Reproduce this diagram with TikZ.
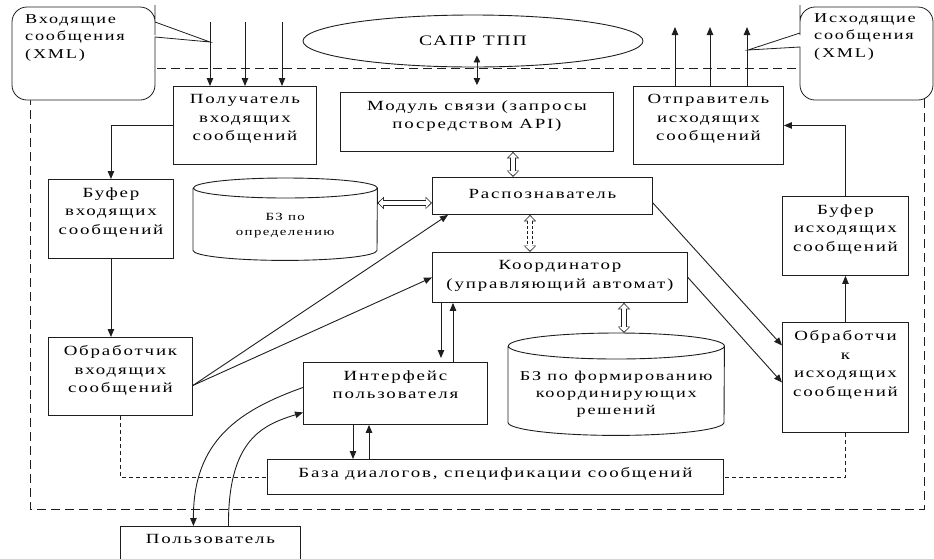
\documentclass[tikz,border=0pt]{standalone}
\usepackage{fontspec}
\setmainfont{Liberation Serif}[FakeStretch=1.35, LetterSpace=13]
\usetikzlibrary{arrows.meta,shapes.geometric}
\definecolor{Ink}{HTML}{1E1E1E}

\begin{document}
\begin{tikzpicture}[x=1pt, y=-1pt,
  blk/.style={draw=Ink, fill=white, line width=0.9pt, anchor=north west, inner sep=0pt},
  txt/.style={anchor=north, align=center, inner sep=0pt, yshift=-8.5pt,
              font=\fontsize{14}{18.5}\selectfont},
  note/.style={anchor=north west, align=left, inner sep=0pt,
               font=\fontsize{13.5}{17.5}\selectfont},
  callout/.style={draw=Ink, fill=white, line width=0.8pt},
  cyl/.style={draw=Ink, line width=0.9pt},
  arr/.style={-{Triangle[length=8pt,width=6.5pt]}, line width=0.9pt, draw=Ink},
  dbl/.style={{Triangle[length=7pt,width=6.5pt]}-{Triangle[length=7pt,width=6.5pt]},
              line width=0.9pt, draw=Ink},
  wide/.style={line width=6pt, draw=Ink,
               {Triangle[length=6.5pt,width=12pt]}-{Triangle[length=6.5pt,width=12pt]},
               postaction={draw=white, solid, line width=4pt, shorten <=1.3pt, shorten >=1.3pt,
                 {Triangle[length=4.5pt,width=9pt]}-{Triangle[length=4.5pt,width=9pt]}}},
  frame/.style={draw=Ink, line width=0.9pt, dash pattern=on 9pt off 5pt},
  link/.style={draw=Ink, line width=0.8pt, dash pattern=on 4pt off 3pt}]
  \useasboundingbox (0,0) rectangle (934,558);
  \clip (0,0) rectangle (934,558);

  % system boundary
  \draw[frame] (30,68) rectangle (924,509);

  % message callouts
  \draw[callout] (155,60) [rounded corners=15pt] -- (155,100) -- (12,100) -- (12,7)
    -- (155,7) -- (155,20) [sharp corners] -- (155,22) -- (210,42) -- (155,37) -- cycle;
  \node[note] (inmsg) at (25,14) {Входящие\\сообщения\\(XML)};
  \draw[callout] (800,60) [rounded corners=15pt] -- (800,100) -- (933,100) -- (933,7)
    -- (800,7) -- (800,20) [sharp corners] -- (800,33) -- (748,50) -- (800,47) -- cycle;
  \node[note] (outmsg) at (814,13) {Исходящие\\сообщения\\(XML)};

  \node[ellipse, draw=Ink, line width=0.9pt, minimum width=340pt, minimum height=52pt,
        font=\fontsize{14.5}{16}\selectfont] (sapr) at (473,41) {САПР ТПП};

  % blocks
  \node[blk, minimum width=143pt, minimum height=78pt,
        label={[txt]north:{Получатель\\входящих\\сообщений}}] (recv) at (173,86) {};
  \node[blk, minimum width=273pt, minimum height=59pt,
        label={[txt]north:{Модуль связи (запросы\\посредством API)}}] (modul) at (340,92) {};
  \node[blk, minimum width=150pt, minimum height=78pt,
        label={[txt]north:{Отправитель\\исходящих\\сообщений}}] (send) at (633,86) {};
  \node[blk, minimum width=125pt, minimum height=79pt,
        label={[txt]north:{Буфер\\входящих\\сообщений}}] (bufin) at (48,179) {};
  \node[blk, minimum width=220pt, minimum height=37pt,
        label={[txt, yshift=-4pt]north:{Распознаватель}}] (raspozn) at (432,177) {};
  \node[blk, minimum width=255pt, minimum height=50pt,
        label={[txt]north:{Координатор\\(управляющий автомат)}}] (coord) at (432,252) {};
  \node[blk, minimum width=144pt, minimum height=78pt,
        label={[txt]north:{Обработчик\\входящих\\сообщений}}] (procin) at (48,337) {};
  \node[blk, minimum width=126pt, minimum height=79pt,
        label={[txt]north:{Буфер\\исходящих\\сообщений}}] (bufout) at (782,196) {};
  \node[blk, minimum width=126pt, minimum height=110pt,
        label={[txt]north:{Обработчи\\к\\исходящих\\сообщений}}] (procout) at (782,322) {};
  \node[blk, minimum width=184pt, minimum height=62pt,
        label={[txt]north:{Интерфейс\\пользователя}}] (interf) at (303,362) {};
  \node[blk, minimum width=456pt, minimum height=35pt,
        label={[txt]north:{База диалогов, спецификации сообщений}}] (baza) at (267,459) {};
  \node[blk, minimum width=180pt, minimum height=50pt,
        label={[txt]north:{Пользователь}}] (user) at (120,526) {};

  % knowledge bases
  \node[anchor=north west, inner sep=0pt, minimum width=184pt, minimum height=82pt,
        label={[txt, yshift=-26.5pt, font=\fontsize{11}{15.5}\selectfont]north:{БЗ по\\определению}}]
        (bzopr) at (193,178) {};
  \draw[cyl] ([yshift=-10pt]bzopr.north west) -- ([yshift=10pt]bzopr.south west)
    arc[start angle=180, end angle=360, x radius=92pt, y radius=10pt]
    -- ([yshift=-10pt]bzopr.north east)
    arc[start angle=0, end angle=360, x radius=92pt, y radius=10pt];
  \node[anchor=north west, inner sep=0pt, minimum width=216pt, minimum height=102pt,
        label={[txt, yshift=-29pt, font=\fontsize{13.5}{17}\selectfont]north:{БЗ по формированию\\координирующих\\решений}}]
        (bzform) at (508,333) {};
  \draw[cyl] ([yshift=-13pt]bzform.north west) -- ([yshift=13pt]bzform.south west)
    arc[start angle=180, end angle=360, x radius=108pt, y radius=13pt]
    -- ([yshift=-13pt]bzform.north east)
    arc[start angle=0, end angle=360, x radius=108pt, y radius=13pt];

  % message flow
  \foreach \x/\n in {210/1,245/2,282/3} {
    \coordinate (in\n) at (\x,22);
    \draw[arr] (in\n) -- (in\n |- recv.north);
  }
  \foreach \x/\n in {675/1,710/2,747/3} {
    \coordinate (out\n) at (\x,27);
    \draw[arr] (out\n |- send.north) -- (out\n);
  }
  \draw[dbl] ([yshift=12pt]sapr.south -| modul.north) -- ([yshift=7pt]modul.north);
  \draw[arr] (recv.west) -| (bufin.north);
  \draw[arr] (bufin.south) -- (bufin.south |- procin.north);
  \draw[arr] ([yshift=-9pt]procin.east) -- ([xshift=16pt]raspozn.south west);
  \draw[arr] ([yshift=-9pt]procin.east) -- (coord.west);
  \draw[arr] ([yshift=-7pt]raspozn.east) -- ([yshift=32pt]procout.west);
  \draw[arr] (coord.east) -- ([yshift=-5pt]procout.west);
  \draw[arr] (procout.north) -- (bufout.south);
  \draw[arr] (bufout.north) |- (send.east);
  \draw[arr] ([xshift=9pt]coord.south west) -- ([xshift=9pt, yshift=4pt]coord.south west |- interf.north);
  \draw[arr] ([xshift=21pt]coord.south west |- interf.north) -- ([xshift=21pt]coord.south west);
  \draw[arr] ([xshift=50pt]interf.south west) -- ([xshift=50pt]interf.south west |- baza.north);
  \draw[arr] ([xshift=66pt]interf.south west |- baza.north) -- ([xshift=66pt]interf.south west);

  % hollow links
  \draw[wide] ([xshift=81pt]raspozn.north west) -- ([xshift=81pt]raspozn.north west |- modul.south);
  \draw[wide, dash pattern=on 3pt off 2pt] ([xshift=98pt]raspozn.south west)
    -- ([xshift=98pt]raspozn.south west |- coord.north);
  \draw[wide] ([xshift=192pt]coord.south west) -- ([xshift=192pt]coord.south west |- bzform.north);
  \draw[wide] ([yshift=-7pt]raspozn.west) -- ([yshift=-7pt]raspozn.west -| bzopr.east);

  % dialogue base links
  \draw[link] (procin.south) |- (baza.west);
  \draw[link] (procout.south) |- (baza.east);

  % user
  \draw[arr] ([yshift=6pt]interf.west) .. controls (240,410) and (193,440) .. ([xshift=-17pt]user.north);
  \draw[arr] ([xshift=18pt]user.north) .. controls (228,440) and (262,425) .. ([yshift=-19pt]interf.west);
\end{tikzpicture}
\end{document}
